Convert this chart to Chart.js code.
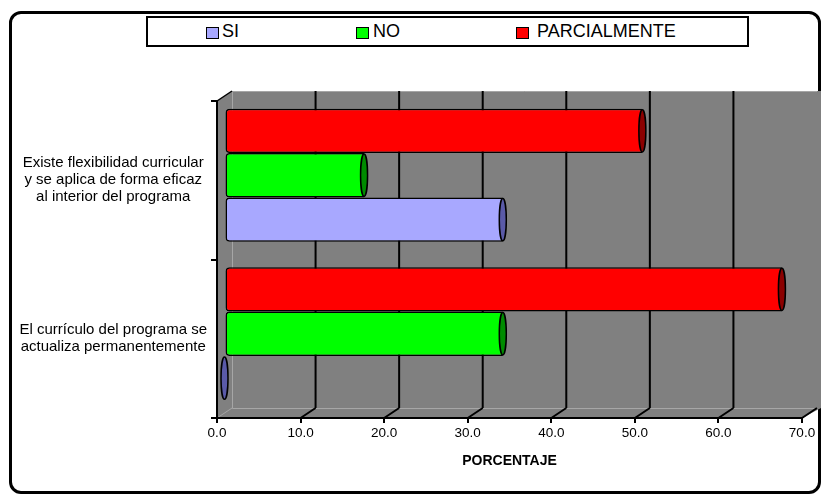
<!DOCTYPE html>
<html><head><meta charset="utf-8">
<script src="https://cdn.jsdelivr.net/npm/chart.js@4/dist/chart.umd.min.js"></script>
<style>
html,body{margin:0;padding:0;background:#fff;}
#wrap{position:relative;width:823px;height:499px;overflow:hidden;font-family:"Liberation Sans",Arial,sans-serif;}
#frame{position:absolute;left:9px;top:11px;width:812px;height:483px;border:3px solid #000;border-radius:12px;box-sizing:border-box;}
#legend{position:absolute;left:146px;top:16px;width:603px;height:31px;border:2px solid #000;background:#fff;box-sizing:border-box;}
.item{position:absolute;top:4px;font-size:18px;line-height:19px;color:#000;white-space:nowrap;}
.sw{position:absolute;top:9px;width:13px;height:12px;border:1.5px solid #000;box-sizing:border-box;}
canvas{position:absolute;left:0;top:0;}
</style></head>
<body>
<div id="wrap">
  <div id="frame"></div>
  <canvas id="c" width="823" height="499"></canvas>
  <div id="legend"></div>
</div>
<script>
const categories = [
  ["Existe flexibilidad curricular", "y se aplica de forma eficaz", "al interior del programa"],
  ["El currículo del programa se", "actualiza permanentemente"]
];
const seriesNames = ["SI", "NO", "PARCIALMENTE"];
const siValues = [33.3, 0];
const noValues = [16.7, 33.3];
const parcialValues = [50.0, 66.7];
const xTicks = [0, 10, 20, 30, 40, 50, 60, 70];
const xTitle = "PORCENTAJE";

const colors = {
  SI: {top: "#A8A8FF", bot: "#7070C8", cap: "#5A5AA8"},
  NO: {top: "#00FF00", bot: "#00B400", cap: "#008C00"},
  PARCIALMENTE: {top: "#FF0000", bot: "#C00000", cap: "#8C0000"}
};

// HTML legend (order SI, NO, PARCIALMENTE)
const legendPos = [[58, 74], [208, 225], [368, 389]];
const lg = document.getElementById('legend');
seriesNames.forEach((n, i) => {
  const s = document.createElement('div'); s.className = 'sw';
  s.style.left = legendPos[i][0] + 'px'; s.style.background = colors[n].top;
  const t = document.createElement('div'); t.className = 'item';
  t.style.left = legendPos[i][1] + 'px'; t.textContent = n;
  lg.appendChild(s); lg.appendChild(t);
});

const DX = 15, DY = -10;

const threeD = {
  id: 'threeD',
  beforeDraw(chart) {
    const {ctx, chartArea: a, scales: {x}} = chart;
    ctx.save();
    ctx.fillStyle = '#808080';
    ctx.beginPath();
    ctx.moveTo(a.left, a.top);
    ctx.lineTo(a.left + DX, a.top + DY);
    ctx.lineTo(a.right + DX + 4, a.top + DY);
    ctx.lineTo(a.right + DX + 4, a.bottom + DY);
    ctx.lineTo(a.right, a.bottom);
    ctx.lineTo(a.left, a.bottom);
    ctx.closePath();
    ctx.fill();
    ctx.strokeStyle = '#A6A6A6';
    ctx.lineWidth = 1;
    ctx.beginPath();
    ctx.moveTo(a.left + DX + 0.5, a.top + DY);
    ctx.lineTo(a.left + DX + 0.5, a.bottom + DY + 0.5);
    ctx.lineTo(a.right + DX + 0.5, a.bottom + DY + 0.5);
    ctx.moveTo(a.left + DX, a.top + DY + 0.5);
    ctx.lineTo(a.right + DX, a.top + DY + 0.5);
    ctx.moveTo(a.left, a.bottom);
    ctx.lineTo(a.left + DX, a.bottom + DY);
    ctx.moveTo(a.right, a.bottom);
    ctx.lineTo(a.right + DX, a.bottom + DY);
    ctx.stroke();
    ctx.strokeStyle = '#000';
    ctx.lineWidth = 2;
    ctx.beginPath();
    x.ticks.forEach(t => {
      if (t.value === 0) return;
      const px = x.getPixelForValue(t.value);
      if (t.value !== 70) {
        ctx.moveTo(px + DX, a.top + DY);
        ctx.lineTo(px + DX, a.bottom + DY);
      }
      ctx.moveTo(px, a.bottom);
      ctx.lineTo(px + DX, a.bottom + DY);
    });
    ctx.stroke();
    ctx.lineWidth = 1.5;
    ctx.beginPath();
    ctx.moveTo(a.left, a.top);
    ctx.lineTo(a.left + DX, a.top + DY);
    ctx.stroke();
    ctx.restore();
  },
  beforeDatasetsDraw(chart) {
    chart.ctx.save();
    chart.ctx.translate(DX / 2, DY / 2);
  },
  afterDatasetsDraw(chart) {
    const ctx = chart.ctx;
    chart.data.datasets.forEach((ds, di) => {
      const meta = chart.getDatasetMeta(di);
      const c = colors[ds.label];
      meta.data.forEach(el => {
        const h = el.height;
        ctx.beginPath();
        ctx.ellipse(el.x, el.y, 3.5, h / 2 - 1, 0, 0, Math.PI * 2);
        ctx.fillStyle = c.cap;
        ctx.fill();
        ctx.lineWidth = 1.5;
        ctx.strokeStyle = '#000';
        ctx.stroke();
      });
    });
    ctx.restore();
  }
};

const makeGrad = (ctx, n) => {
  const chart = ctx.chart;
  const el = chart.getDatasetMeta(ctx.datasetIndex).data[ctx.dataIndex];
  const c = colors[n];
  if (!el || el.y === undefined || isNaN(el.y)) return c.top;
  const g = chart.ctx.createLinearGradient(0, el.y - el.height / 2, 0, el.y + el.height / 2);
  g.addColorStop(0, c.top); g.addColorStop(0.45, c.top); g.addColorStop(1, c.bot);
  return g;
};

const mkDs = (name, data) => ({
  label: name,
  data: data,
  backgroundColor: (ctx) => makeGrad(ctx, name),
  borderColor: '#000',
  borderWidth: 1.5,
  borderSkipped: false,
  borderRadius: {topLeft: 4, bottomLeft: 4, topRight: 0, bottomRight: 0},
  categoryPercentage: 0.84,
  barPercentage: 1.0
});

const chart = new Chart(document.getElementById('c'), {
  type: 'bar',
  data: {
    labels: categories,
    datasets: [
      mkDs('PARCIALMENTE', parcialValues),
      mkDs('NO', noValues),
      mkDs('SI', siValues)
    ]
  },
  plugins: [threeD],
  options: {
    indexAxis: 'y',
    responsive: false,
    animation: false,
    layout: {padding: {left: 0, right: 21, top: 101, bottom: 29}},
    plugins: {legend: {display: false}, tooltip: {enabled: false}},
    scales: {
      x: {
        min: 0, max: 70,
        afterBuildTicks: (s) => { s.ticks = xTicks.map(v => ({value: v})); },
        afterFit: (s) => { s.height = 52; },
        ticks: {
          color: '#000', padding: 2, maxRotation: 0,
          font: {family: '"Liberation Sans", Arial, sans-serif', size: 13.5},
          callback: (v) => Number(v).toFixed(1)
        },
        grid: {drawOnChartArea: false, drawTicks: true, tickLength: 5, color: '#000', lineWidth: 2},
        border: {display: true, color: '#000', width: 2},
        title: {display: true, text: xTitle, color: '#000', padding: {top: 4, bottom: 0},
          font: {family: '"Liberation Sans", Arial, sans-serif', size: 14, weight: 'bold'}}
      },
      y: {
        afterFit: (s) => { s.width = 217; },
        ticks: {
          color: '#000', crossAlign: 'center', padding: 4,
          font: {family: '"Liberation Sans", Arial, sans-serif', size: 15, lineHeight: 1.13}
        },
        grid: {drawOnChartArea: false, drawTicks: true, tickLength: 6, color: '#000', lineWidth: 2, offset: true},
        border: {display: true, color: '#000', width: 2}
      }
    }
  }
});
</script>
</body></html>
